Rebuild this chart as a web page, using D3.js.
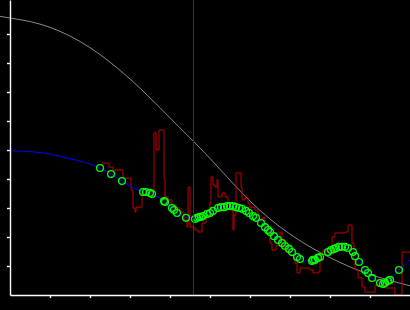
<!DOCTYPE html>
<html>
<head>
<meta charset="utf-8">
<script src="https://cdn.jsdelivr.net/npm/d3@7"></script>
<style>
  body { margin: 0; background: #000; }
  svg { display: block; background: #000; }
</style>
</head>
<body>
<script>
var width = 410;
var height = 310;

// prior curve (gray)
var priorX = [-0.25, 0, 0.5, 1, 1.5, 2, 2.5, 3, 3.5, 4, 4.5, 5, 5.5, 6, 6.5, 7, 7.5, 8, 8.5, 9, 9.5, 10];
var priorY = [0.961, 0.955, 0.943, 0.923, 0.893, 0.853, 0.803, 0.745, 0.68, 0.611, 0.542, 0.471, 0.396, 0.324, 0.262, 0.21, 0.166, 0.129, 0.097, 0.071, 0.05, 0.032];

// fitted mean (blue)
var fitX = [0, 0.825, 1.425, 1.925, 2.25, 2.525, 2.8, 3.25, 3.55, 3.85, 4.075, 4.2, 4.425, 4.675, 4.925, 5.25, 5.425, 5.625, 5.875, 6.125, 6.325, 6.5, 6.7, 6.925, 7.125, 7.5, 7.7, 7.95, 8.3, 8.45, 8.625, 8.875, 9.05, 9.3, 9.5, 9.725, 10];
var fitY = [0.497, 0.49, 0.472, 0.455, 0.438, 0.417, 0.393, 0.359, 0.348, 0.324, 0.297, 0.279, 0.266, 0.266, 0.279, 0.303, 0.307, 0.303, 0.29, 0.269, 0.245, 0.217, 0.19, 0.166, 0.138, 0.117, 0.131, 0.152, 0.166, 0.162, 0.134, 0.086, 0.059, 0.041, 0.052, 0.086, 0.121];

// raw signal (red, stepped)
var rawX = [2.3, 2.475, 2.575, 2.825, 3.025, 3.075, 3.125, 3.15, 3.3, 3.45, 3.55, 3.6, 3.65, 3.7, 3.725, 3.825, 3.85, 3.875, 3.95, 4.05, 4.15, 4.25, 4.35, 4.425, 4.45, 4.475, 4.5, 4.625, 4.7, 4.8, 4.9, 5.0, 5.025, 5.075, 5.125, 5.175, 5.2, 5.3, 5.375, 5.45, 5.5, 5.575, 5.6, 5.65, 5.75, 5.775, 5.8, 5.875, 5.95, 6.0, 6.125, 6.2, 6.3, 6.375, 6.5, 6.55, 6.65, 6.75, 6.8, 6.875, 7.0, 7.125, 7.175, 7.25, 7.375, 7.5, 7.575, 7.7, 7.75, 7.825, 7.95, 8.05, 8.125, 8.25, 8.375, 8.45, 8.525, 8.55, 8.6, 8.625, 8.7, 8.8, 8.875, 9.05, 9.125, 9.2, 9.275, 9.375, 9.55, 9.625, 9.775, 9.8, 10];
var rawY = [0.455, 0.441, 0.431, 0.403, 0.362, 0.3, 0.286, 0.303, 0.352, 0.352, 0.359, 0.559, 0.5, 0.5, 0.569, 0.569, 0.403, 0.338, 0.328, 0.303, 0.3, 0.286, 0.259, 0.234, 0.372, 0.372, 0.234, 0.224, 0.217, 0.248, 0.276, 0.317, 0.407, 0.379, 0.372, 0.397, 0.338, 0.352, 0.338, 0.31, 0.293, 0.224, 0.276, 0.421, 0.421, 0.372, 0.328, 0.338, 0.317, 0.303, 0.293, 0.259, 0.266, 0.217, 0.179, 0.155, 0.172, 0.217, 0.19, 0.155, 0.138, 0.11, 0.076, 0.093, 0.093, 0.086, 0.076, 0.079, 0.145, 0.155, 0.148, 0.2, 0.214, 0.214, 0.217, 0.241, 0.241, 0.179, 0.121, 0.086, 0.059, 0.028, 0.01, 0.01, 0.034, 0.052, 0.038, 0.024, 0.024, 0, 0, 0.148, 0.148];

// sample points (green rings)
var sampleX = [2.25, 2.525, 2.8, 3.325, 3.4, 3.5, 3.55, 3.85, 3.875, 4.05, 4.1, 4.175, 4.4, 4.625, 4.675, 4.725, 4.775, 4.825, 4.925, 5.0, 5.075, 5.2, 5.275, 5.35, 5.425, 5.5, 5.575, 5.65, 5.725, 5.8, 5.9, 5.975, 6.075, 6.15, 6.275, 6.375, 6.45, 6.5, 6.6, 6.7, 6.8, 6.875, 6.975, 7.05, 7.175, 7.25, 7.55, 7.575, 7.625, 7.7, 7.75, 7.95, 8.025, 8.1, 8.15, 8.225, 8.3, 8.375, 8.45, 8.575, 8.625, 8.725, 8.875, 8.95, 9.05, 9.25, 9.325, 9.375, 9.45, 9.5, 9.725];
var sampleY = [0.438, 0.417, 0.393, 0.355, 0.355, 0.352, 0.348, 0.324, 0.321, 0.3, 0.293, 0.283, 0.266, 0.262, 0.266, 0.269, 0.269, 0.272, 0.279, 0.283, 0.29, 0.3, 0.303, 0.303, 0.307, 0.307, 0.307, 0.303, 0.3, 0.297, 0.29, 0.283, 0.272, 0.266, 0.248, 0.234, 0.224, 0.217, 0.203, 0.19, 0.179, 0.169, 0.159, 0.148, 0.131, 0.124, 0.117, 0.121, 0.121, 0.128, 0.131, 0.148, 0.155, 0.159, 0.162, 0.166, 0.166, 0.166, 0.162, 0.148, 0.134, 0.114, 0.086, 0.076, 0.059, 0.041, 0.038, 0.041, 0.048, 0.052, 0.086];

var markerX = 4.575;
var xTicks = [1, 2, 3, 4, 5, 6, 7, 8, 9];
var yTicks = [0.1, 0.2, 0.3, 0.4, 0.5, 0.6, 0.7, 0.8, 0.9];

var x = d3.scaleLinear().domain([0, 10]).range([10, 410]);
var y = d3.scaleLinear().domain([0, 295 / 290]).range([295, 0]);

var svg = d3.select("body")
  .append("svg")
  .attr("width", width)
  .attr("height", height);

function pairs(xs, ys) {
  return xs.map(function(d, i) { return [d, ys[i]]; });
}

var line = d3.line()
  .x(function(d) { return x(d[0]); })
  .y(function(d) { return y(d[1]); });

svg.append("path")
  .datum(pairs(priorX, priorY))
  .attr("fill", "none")
  .attr("stroke", "#8a8a8a")
  .attr("stroke-width", 1)
  .attr("d", line.curve(d3.curveMonotoneX));

svg.append("path")
  .datum(pairs(rawX, rawY))
  .attr("fill", "none")
  .attr("stroke", "#c00000")
  .attr("stroke-width", 1)
  .attr("d", line.curve(d3.curveStepAfter));

svg.append("path")
  .datum(pairs(fitX, fitY))
  .attr("fill", "none")
  .attr("stroke", "#0000ff")
  .attr("stroke-width", 1)
  .attr("d", line.curve(d3.curveMonotoneX));

svg.append("g")
  .selectAll("circle")
  .data(pairs(sampleX, sampleY))
  .enter()
  .append("circle")
  .attr("cx", function(d) { return x(d[0]); })
  .attr("cy", function(d) { return y(d[1]); })
  .attr("r", 3.4)
  .attr("fill", "none")
  .attr("stroke", "#00ff00")
  .attr("stroke-width", 1.3);

svg.append("line")
  .attr("x1", x(markerX) + 0.5)
  .attr("x2", x(markerX) + 0.5)
  .attr("y1", 0)
  .attr("y2", y(0))
  .attr("stroke", "#800080")
  .attr("stroke-width", 1);

var xAxis = svg.append("g")
  .attr("transform", "translate(0," + y(0) + ")")
  .call(d3.axisBottom(x).tickValues(xTicks).tickSize(3).tickSizeOuter(0).tickFormat(""));

var yAxis = svg.append("g")
  .attr("transform", "translate(" + x(0) + ",0)")
  .call(d3.axisLeft(y).tickValues(yTicks).tickSize(3).tickSizeOuter(0).tickFormat(""));

svg.selectAll(".domain, .tick line")
  .attr("stroke", "#fff")
  .attr("stroke-width", 1.4);
</script>
</body>
</html>
